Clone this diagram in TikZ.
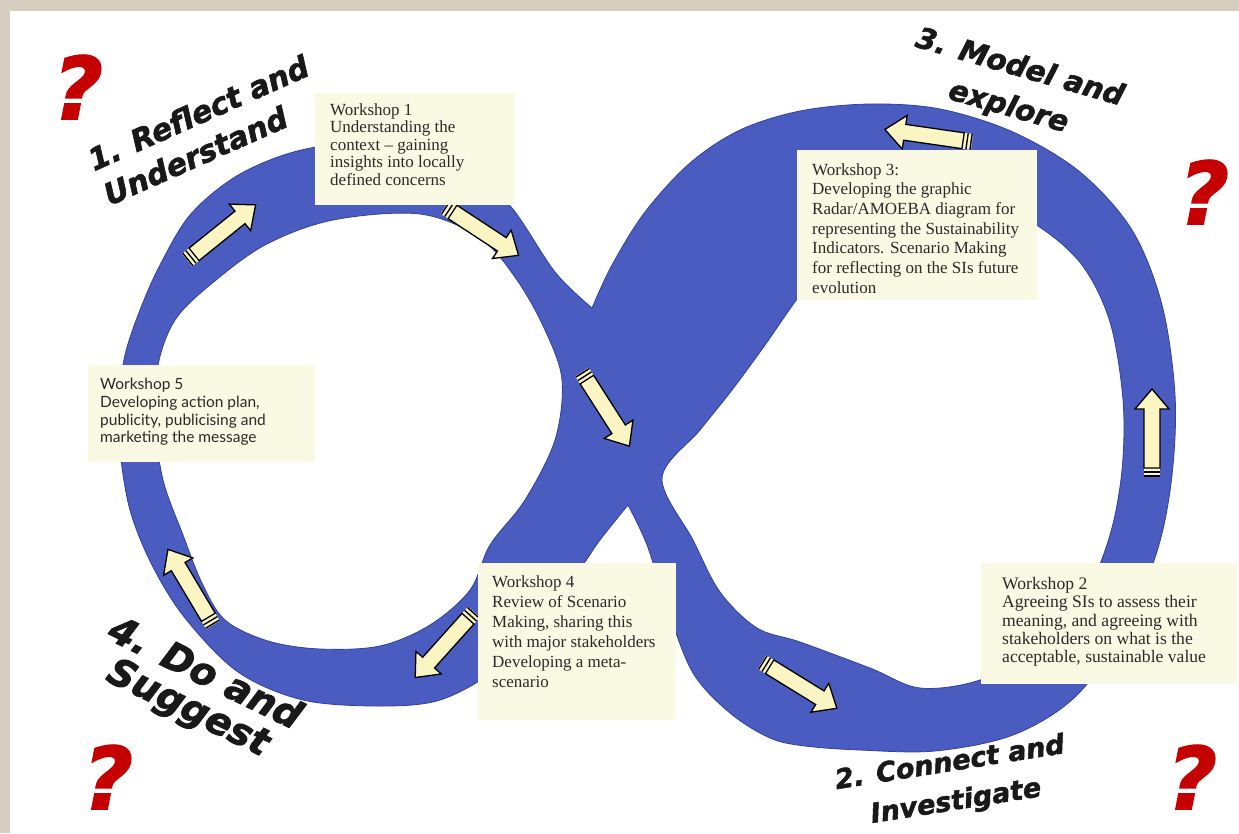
\documentclass[tikz,border=0pt]{standalone}
\usepackage{fontspec}
\setmainfont{Liberation Serif}
\newfontfamily\stagefont{DejaVu Sans}[BoldItalicFeatures={FakeBold=2}]
\newfontfamily\gillfont{Lato}
\usetikzlibrary{positioning}

\definecolor{paper}{RGB}{214,206,190}
\definecolor{bandblue}{RGB}{74,92,192}
\definecolor{bandedge}{RGB}{50,64,158}
\definecolor{boxcream}{RGB}{249,249,228}
\definecolor{arrowcream}{RGB}{250,245,195}
\definecolor{inkgray}{RGB}{42,42,42}
\definecolor{qred}{RGB}{196,0,0}

\begin{document}
\begin{tikzpicture}[x=1pt, y=-1pt,
        panel/.style={fill=boxcream, inner sep=0pt, anchor=north west},
        paneltext/.style n args={3}{anchor=north west, inner sep=0pt, align=left, text=inkgray, font=#1\fontsize{#2}{#3}\selectfont},
        stage/.style 2 args={font=\stagefont\bfseries\itshape\fontsize{#1}{#2}\selectfont, text=black!90, align=center, inner sep=0pt},
        query/.style={font=\stagefont\bfseries\itshape\fontsize{86}{86}\selectfont, text=qred, inner sep=0pt},
        flowarrow/.pic={
            \fill[arrowcream] (0,-8) rectangle (9,8);
            \draw[line width=1.4pt] (1,-8) -- (1,8) (5,-8) -- (5,8);
            \filldraw[fill=arrowcream, draw=black, line width=1.3pt] (9,-8) -- (68,-8) -- (68,-17) -- (88,0) -- (68,17) -- (68,8) -- (9,8) -- cycle;
        }
    ]

% Paper and sheet
    \fill[paper] (0,0) rectangle (1239,833);
    \fill[white] (10,11) rectangle (1239,833);
    \useasboundingbox (0,0) rectangle (1239,833);

% Figure-eight band
    \filldraw[fill=bandblue, draw=bandedge, line width=0.8pt, even odd rule]
        plot[smooth, tension=0.55] coordinates {(592,308) (612,265) (645,212) (690,163) (740,130) (800,111) (870,104) (940,109) (1013,132) (1080,172) (1132,230) (1162,305) (1175,395) (1172,475) (1158,548) (1126,628) (1075,697) (1013,735) (935,751) (860,750) (805,746) (770,738) (730,713) (693,673) (668,610) (647,545) (628,505)}
        -- plot[smooth, tension=0.55] coordinates {(628,505) (600,540) (582,566) (540,622) (495,670) (440,700) (380,706) (303,700) (238,672) (185,618) (152,565) (130,510) (120,450) (119,400) (125,355) (140,310) (160,265) (190,215) (235,177) (290,153) (350,143) (415,146) (470,170) (512,208) (555,272) (592,308)}
        -- cycle
        plot[smooth cycle, tension=0.55] coordinates {(333,220) (420,214) (480,238) (517,280) (545,330) (562,380) (555,440) (525,500) (490,545) (470,590) (430,625) (380,646) (320,649) (268,641) (225,620) (202,583) (183,535) (163,480) (155,420) (158,365) (175,320) (210,285) (265,245)}
        plot[smooth cycle, tension=0.55] coordinates {(662,478) (700,430) (732,390) (765,345) (800,295) (850,232) (910,200) (980,198) (1038,226) (1082,265) (1110,322) (1123,400) (1122,470) (1110,535) (1085,595) (1040,648) (980,680) (920,688) (870,668) (800,642) (757,628) (720,592) (693,540)};

% Flow arrows on the band
    \pic[rotate=38.8] at (187,260) {flowarrow};
    \pic[rotate=-33.3] at (445,207) {flowarrow};
    \pic[rotate=-57.4] at (582,372) {flowarrow};
    \pic[rotate=-31.7] at (762,662) {flowarrow};
    \pic[rotate=90] at (1152,477) {flowarrow};
    \pic[rotate=171.8] at (972,142) {flowarrow};
    \pic[rotate=-131.9] at (474,612) {flowarrow};
    \pic[rotate=120.8] at (213,625) {flowarrow};

% Workshop panels
    \node[panel, minimum width=200pt, minimum height=112pt] (ws1) at (315,93) {};
    \node[paneltext={\rmfamily}{17}{17.5}, below right=10pt and 15pt of ws1.north west] (ws1text)
        {Workshop 1\\Understanding the\\context – gaining\\insights into locally\\defined concerns};

    \node[panel, minimum width=240pt, minimum height=150pt] (ws3) at (797,150) {};
    \node[paneltext={\rmfamily}{17}{19.7}, below right=13pt and 15pt of ws3.north west] (ws3text)
        {Workshop 3:\\Developing the graphic\\Radar/AMOEBA diagram for\\representing the Sustainability\\Indicators. Scenario Making\\for reflecting on the SIs future\\evolution};

    \node[panel, minimum width=227pt, minimum height=97pt] (ws5) at (88,365) {};
    \node[paneltext={\gillfont}{15.5}{17.7}, below right=13pt and 12pt of ws5.north west] (ws5text)
        {Workshop 5\\Developing action plan,\\publicity, publicising and\\marketing the message};

    \node[panel, minimum width=198pt, minimum height=157pt] (ws4) at (478,563) {};
    \node[paneltext={\rmfamily}{17}{20}, below right=12pt and 14pt of ws4.north west] (ws4text)
        {Workshop 4\\Review of Scenario\\Making, sharing this\\with major stakeholders\\Developing a meta-\\scenario};

    \node[panel, minimum width=256pt, minimum height=121pt] (ws2) at (981,563) {};
    \node[paneltext={\rmfamily}{17.6}{18.3}, below right=14pt and 21pt of ws2.north west] (ws2text)
        {Workshop 2\\Agreeing SIs to assess their\\meaning, and agreeing with\\stakeholders on what is the\\acceptable, sustainable value};

% Stage labels
    \node[stage={30}{38}, rotate=24, align=left] (reflect) at (206,130) {1. Reflect and\\Understand};
    \node[stage={27}{39}, rotate=9] (connect) at (953,783) {2. Connect and\\Investigate};
    \node[stage={29}{41}, rotate=-16] (model) at (1014,88) {3. Model and\\explore};
    \node[stage={38}{38}, rotate=-26] (suggest) at (196,692) {4. Do and\\Suggest};

% Question marks
    \node[query] (q1) at (78,87) {?};
    \node[query] (q2) at (1204,192) {?};
    \node[query] (q3) at (108,777) {?};
    \node[query] (q4) at (1192,777) {?};

\end{tikzpicture}
\end{document}
